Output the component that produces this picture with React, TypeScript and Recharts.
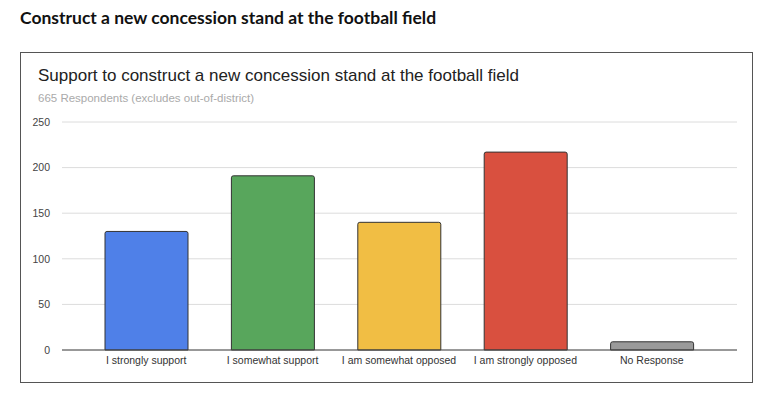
import React from "react";
import { BarChart, Bar, XAxis, YAxis, CartesianGrid, Cell } from "recharts";

const categories = [
  "I strongly support",
  "I somewhat support",
  "I am somewhat opposed",
  "I am strongly opposed",
  "No Response",
];
const responses = [130, 191, 140, 217, 9];
const barColors = ["#4f80e8", "#58a65c", "#f1be44", "#d9503f", "#9a9a9a"];
const yTicks = [0, 50, 100, 150, 200, 250];

const data = categories.map((name, i) => ({ name, value: responses[i] }));

const App: React.FC = () => {
  return (
    <div
      style={{
        position: "absolute",
        left: 0,
        top: 0,
        width: 768,
        height: 393,
        background: "#fff",
        fontFamily: "'Liberation Sans', Arial, sans-serif",
      }}
    >
      <div
        style={{
          position: "absolute",
          left: 20,
          top: 7,
          fontFamily: "Lato, sans-serif",
          fontWeight: 700,
          fontSize: 17.5,
          color: "#111",
          whiteSpace: "nowrap",
        }}
      >
        Construct a new concession stand at the football field
      </div>
      <div
        style={{
          position: "absolute",
          left: 20,
          top: 52,
          width: 731,
          height: 329,
          border: "1.5px solid #555",
        }}
      />
      <div
        style={{
          position: "absolute",
          left: 38,
          top: 66,
          fontSize: 17,
          color: "#222",
          whiteSpace: "nowrap",
        }}
      >
        Support to construct a new concession stand at the football field
      </div>
      <div
        style={{
          position: "absolute",
          left: 38,
          top: 92,
          fontSize: 11.5,
          color: "#aaa",
          whiteSpace: "nowrap",
        }}
      >
        665 Respondents (excludes out-of-district)
      </div>
      <div style={{ position: "absolute", left: 0, top: 0 }}>
        <BarChart
          width={768}
          height={393}
          data={data}
          margin={{ top: 122, right: 31, left: 0, bottom: 13 }}
          barSize={83}
        >
          <CartesianGrid vertical={false} stroke="#dcdcdc" />
          <XAxis
            dataKey="name"
            height={30}
            padding={{ left: 21, right: 22 }}
            tickLine={false}
            axisLine={{ stroke: "#444" }}
            tick={{ fontSize: 10.5, fill: "#333" }}
            tickMargin={1}
            interval={0}
          />
          <YAxis
            width={62}
            domain={[0, 250]}
            ticks={yTicks}
            tickLine={false}
            axisLine={false}
            tick={{ fontSize: 10.5, fill: "#444" }}
            tickMargin={6}
          />
          <Bar
            dataKey="value"
            isAnimationActive={false}
            stroke="#333"
            strokeWidth={1}
            radius={[2, 2, 0, 0]}
          >
            {data.map((d, i) => (
              <Cell key={d.name} fill={barColors[i]} />
            ))}
          </Bar>
        </BarChart>
      </div>
    </div>
  );
};

export default App;
